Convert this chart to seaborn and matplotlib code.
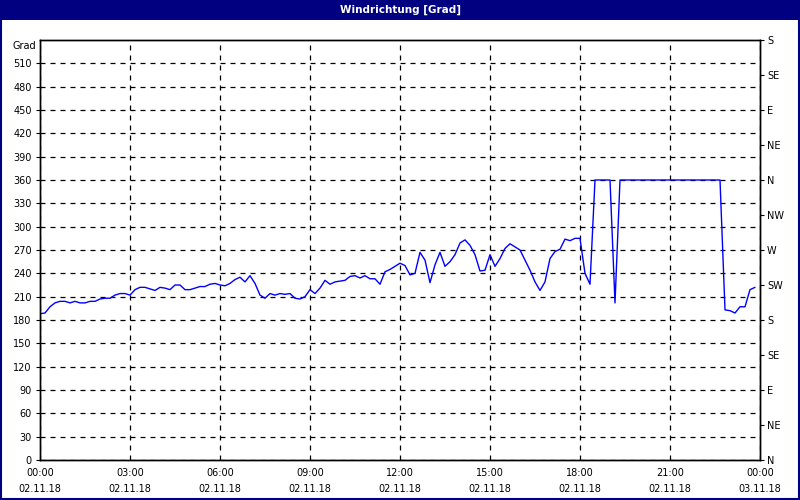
import matplotlib
matplotlib.use("Agg")
import matplotlib.pyplot as plt
from matplotlib.patches import Rectangle
import seaborn as sns
import numpy as np
import pandas as pd

# wind direction readings, every 10 minutes from 00:00 on 02.11.18
direction = [
    188, 189, 197, 202, 204, 204, 202, 204, 202, 202,
    204, 204, 207, 208, 208, 212, 214, 214, 212, 219,
    222, 222, 220, 218, 222, 221, 219, 225, 225, 219,
    219, 221, 223, 223, 226, 227, 225, 224, 227, 232,
    235, 229, 237, 227, 212, 208, 214, 212, 214, 213,
    214, 208, 207, 210, 219, 214, 221, 231, 226, 229,
    230, 231, 236, 237, 234, 237, 233, 233, 226, 242,
    245, 249, 253, 250, 238, 240, 267, 257, 228, 251,
    267, 249, 255, 264, 279, 283, 276, 264, 243, 244,
    264, 249, 259, 272, 278, 274, 270, 257, 244, 229,
    218, 229, 259, 268, 271, 284, 282, 285, 285, 240,
    226, 360, 360, 360, 360, 202, 360, 360, 360, 360,
    360, 360, 360, 360, 360, 360, 360, 360, 360, 360,
    360, 360, 360, 360, 360, 360, 360, 193, 192, 189,
    197, 197, 219, 222,
]
step_minutes = 10

hour_ticks = [0, 3, 6, 9, 12, 15, 18, 21, 24]
hour_labels = ["00:00\n02.11.18", "03:00\n02.11.18", "06:00\n02.11.18",
               "09:00\n02.11.18", "12:00\n02.11.18", "15:00\n02.11.18",
               "18:00\n02.11.18", "21:00\n02.11.18", "00:00\n03.11.18"]
deg_ticks = list(range(0, 511, 30))
compass_ticks = list(range(0, 541, 45))
compass_labels = ["N", "NE", "E", "SE", "S", "SW", "W", "NW",
                  "N", "NE", "E", "SE", "S"]

df = pd.DataFrame({
    "hour": np.arange(len(direction)) * step_minutes / 60.0,
    "deg": direction,
})

sns.set_style("white")
plt.rcParams["font.family"] = ["DejaVu Sans"]
navy = "#000080"

fig = plt.figure(figsize=(8, 5), dpi=100, facecolor="white")
ax = fig.add_axes([0.05, 0.08, 0.90, 0.84])

sns.lineplot(data=df, x="hour", y="deg", color="#0000ff", linewidth=1.0, ax=ax)

ax.set_xlim(0, 24)
ax.set_ylim(0, 540)
ax.set_xticks(hour_ticks)
ax.set_xticklabels(hour_labels, fontsize=7, linespacing=1.75)
ax.set_xticks(np.arange(0, 25, 1), minor=True)
ax.set_yticks(deg_ticks)
ax.set_yticklabels([str(v) for v in deg_ticks], fontsize=7)
ax.tick_params(axis="both", which="major", length=3, width=0.8, direction="out",
               pad=3, labelcolor="black", color="black")
ax.tick_params(axis="x", which="minor", length=3, width=0.8, direction="out", color="black")
ax.set_xlabel("")
ax.set_ylabel("")

ax.grid(True, which="major", color="black", linestyle=(0, (4, 4)), linewidth=0.9)
for s in ax.spines.values():
    s.set_color("black")
    s.set_linewidth(1.0)

ax.annotate("Grad", xy=(0, 540), xycoords="data", xytext=(-2.5, -4),
            textcoords="offset points", fontsize=7, ha="right", va="center",
            color="black")

ax2 = ax.twinx()
ax2.set_ylim(0, 540)
ax2.set_yticks(compass_ticks)
ax2.set_yticklabels(compass_labels, fontsize=7)
ax2.tick_params(axis="y", length=3, width=0.8, direction="out", pad=2,
                labelcolor="black", color="black")
for s in ax2.spines.values():
    s.set_color("black")
    s.set_linewidth(1.0)

# window-style title bar and frame
fig.patches.append(Rectangle((0, 0.96), 1, 0.04, transform=fig.transFigure,
                             facecolor=navy, edgecolor="none", zorder=0))
fig.patches.append(Rectangle((0.001, 0.002), 0.998, 0.997, transform=fig.transFigure,
                             facecolor="none", edgecolor=navy, linewidth=1.5, zorder=5))
fig.text(0.5, 0.98, "Windrichtung [Grad]", color="white", fontsize=7.5,
         fontweight="bold", ha="center", va="center")

fig.savefig("out.png", dpi=100, facecolor="white")
